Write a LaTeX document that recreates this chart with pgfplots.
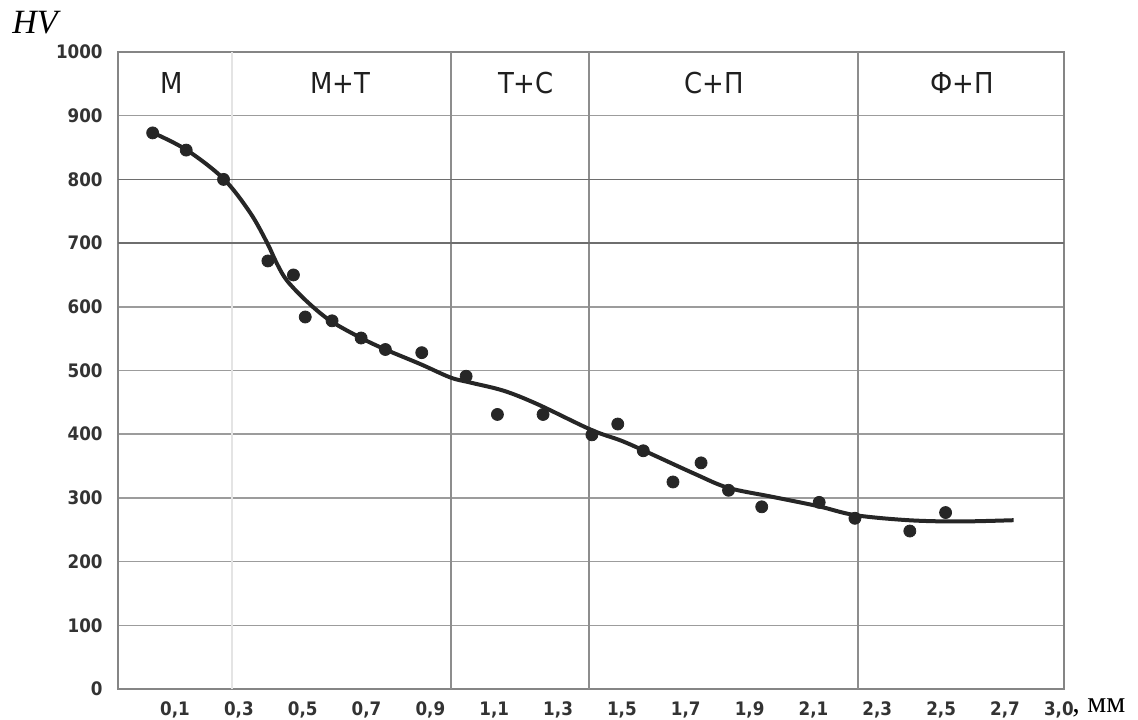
\documentclass[border=0pt]{standalone}
\usepackage{fontspec}
\setmainfont{Liberation Serif}
\newfontfamily\tickfont{DejaVu Sans Condensed}
\usepackage{pgfplots}
\pgfplotsset{compat=1.18}
\definecolor{gridc}{HTML}{9C9C9C}
\definecolor{gridd}{HTML}{6E6E6E}
\definecolor{gridf}{HTML}{E4E4E4}
\definecolor{ink}{HTML}{262626}
\definecolor{lab}{HTML}{333333}
\begin{document}
\begin{tikzpicture}
\begin{axis}[
  at={(0,0)}, anchor=south west,
  width=473pt, height=318.5pt, scale only axis,
  xmin=-0.0786, xmax=2.885, ymin=0, ymax=1000,
  xtick={0.1,0.3,0.5,0.7,0.9,1.1,1.3,1.5,1.7,1.9,2.1,2.3,2.5,2.7,2.869},
  xticklabels={{0,1},{0,3},{0,5},{0,7},{0,9},{1,1},{1,3},{1,5},{1,7},{1,9},{2,1},{2,3},{2,5},{2,7},{3,0}},
  ytick={0,100,200,300,400,500,600,700,800,900,1000},
  yticklabels={0,100,200,300,400,500,600,700,800,900,1000},
  ymajorgrids, major grid style={color=gridc, line width=0.75pt},
  tick style={draw=none},
  axis line style={color=gridc!85!black, line width=0.8pt},
  ticklabel style={font=\tickfont\bfseries\fontsize{9.3}{9.3}\selectfont, color=lab},
  xticklabel style={inner sep=0pt, anchor=north, yshift=-6.3pt},
  yticklabel style={inner sep=0pt, anchor=east, xshift=-7.5pt},
  clip=false,
]
% zone boundaries and darker grid lines
\draw[gridf, line width=0.75pt] (axis cs:0.279,0) -- (axis cs:0.279,1000);
\draw[gridc!90!black, line width=0.75pt] (axis cs:0.964,0) -- (axis cs:0.964,1000);
\draw[gridc!90!black, line width=0.75pt] (axis cs:1.397,0) -- (axis cs:1.397,1000);
\draw[gridc!90!black, line width=0.75pt] (axis cs:2.239,0) -- (axis cs:2.239,1000);
\draw[gridd, line width=0.75pt] (axis cs:-0.0786,800) -- (axis cs:2.885,800);
\draw[gridd, line width=0.75pt] (axis cs:-0.0786,700) -- (axis cs:2.885,700);

% zone labels
\begin{scope}[every node/.style={font=\tickfont\fontsize{14.4}{14.4}\selectfont, color=black!88}]
\node at (axis cs:0.0906,951) {М};
\node at (axis cs:0.618,951) {М+Т};
\node at (axis cs:1.199,951) {Т+С};
\node at (axis cs:1.789,951) {С+П};
\node at (axis cs:2.565,951) {Ф+П};
\end{scope}

% fitted curve
\addplot[no marks, smooth, tension=0.55, line width=2pt, color=ink] coordinates {
(0.032,873) (0.137,846) (0.252,801) (0.335,748) (0.388,701) (0.419,668)
(0.451,641) (0.514,608) (0.587,578) (0.683,551) (0.759,533) (0.869,510)
(0.963,489) (1.026,481) (1.131,468) (1.236,447) (1.403,407) (1.497,390)
(1.570,374) (1.727,338) (1.832,316) (1.968,302) (2.115,287) (2.230,273)
(2.397,265) (2.554,263) (2.727,265)
};
% measured points
\addplot[only marks, mark=*, mark size=3pt, color=ink] coordinates {
(0.030,873) (0.135,846) (0.252,800) (0.391,672) (0.471,650) (0.508,584)
(0.592,578) (0.683,551) (0.759,533) (0.873,528) (1.012,491) (1.110,431)
(1.253,431) (1.406,399) (1.487,416) (1.567,374) (1.660,325) (1.748,355)
(1.834,312) (1.938,286) (2.118,293) (2.230,268) (2.402,248) (2.514,277)
};
\end{axis}
\node[font=\fontsize{17}{17}\selectfont\itshape, inner sep=0pt] at (-41.5pt,333pt) {HV};
\node[anchor=base west, font=\fontsize{15}{15}\selectfont, inner sep=0pt] at (477pt,-11.8pt) {, мм};
\pgfresetboundingbox
\path (-59pt,-15pt) rectangle (510pt,344.5pt);
\end{tikzpicture}
\end{document}
